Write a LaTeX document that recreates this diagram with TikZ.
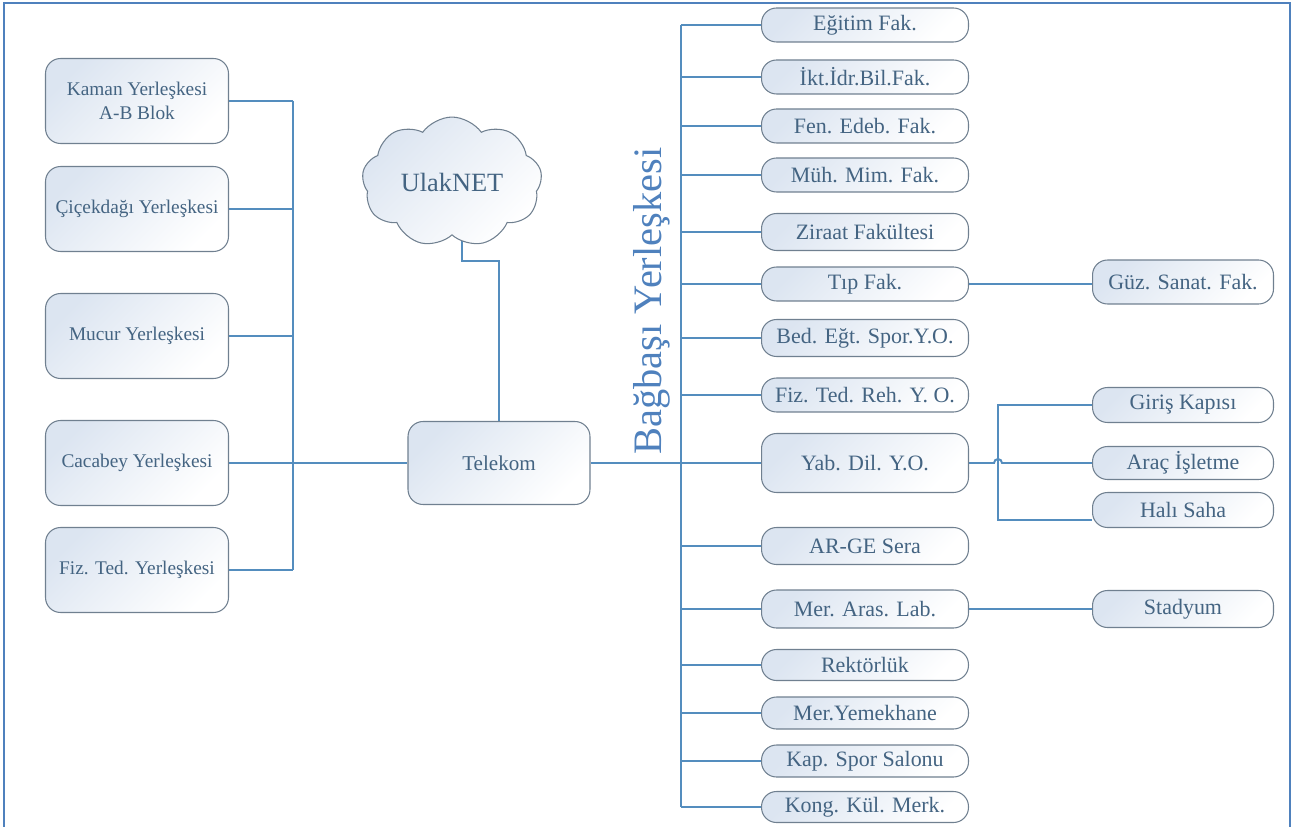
\documentclass[tikz,border=0pt]{standalone}
\usepackage{fontspec}
\setmainfont{Liberation Serif}
\usetikzlibrary{shapes.symbols,backgrounds}
\definecolor{linkblue}{RGB}{84,141,190}
\definecolor{edgegray}{RGB}{112,128,144}
\definecolor{boxtext}{RGB}{68,100,130}
\definecolor{boxfill}{RGB}{220,229,241}
\definecolor{frameblue}{RGB}{79,129,189}
\tikzset{
  box/.style={draw=edgegray,line width=0.6pt,rounded corners=0.3cm,top color=boxfill,bottom color=white,shading angle=45,text=boxtext,align=center,inner sep=2pt},
  campusbox/.style={box,minimum width=3.66cm,minimum height=1.7cm,font=\fontsize{11}{13.5}\selectfont},
  facbox/.style={box,minimum width=4.14cm,minimum height=0.68cm,font=\fontsize{12.5}{14}\selectfont},
  subbox/.style={box,minimum width=3.62cm,minimum height=0.7cm,font=\fontsize{12.5}{14}\selectfont},
  link/.style={draw=linkblue,line width=1.1pt},
  framebox/.style={draw=frameblue,line width=1.2pt}
}
\begin{document}
\begin{tikzpicture}[x=0.02cm,y=-0.02cm]
      \useasboundingbox (0,0) rectangle (1294,827) ;
      \draw[framebox] (4,827) -- (4,3) -- (1290,3) -- (1290,827) ;
      \coordinate (lbus) at (293,0) ;
      \coordinate (rbus) at (681,0) ;
      \coordinate (ybus) at (998,0) ;
      \node[campusbox] (kaman) at (137,101) {Kaman Yerleşkesi\\A-B Blok} ;
      \node[campusbox] (cicekdagi) at (137,209) {Çiçekdağı Yerleşkesi} ;
      \node[campusbox] (mucur) at (137,336) {Mucur Yerleşkesi} ;
      \node[campusbox] (cacabey) at (137,463) {Cacabey Yerleşkesi} ;
      \node[campusbox] (fizted) at (137,570) {Fiz. Ted. Yerleşkesi} ;
      \node[box,minimum width=3.64cm,minimum height=1.66cm,font=\fontsize{12}{14}\selectfont] (telekom) at (499,463) {Telekom} ;
      \node[cloud,cloud puffs=9,cloud puff arc=110,aspect=1.5,minimum width=3.6cm,minimum height=2.3cm,draw=edgegray,line width=0.6pt,top color=boxfill,bottom color=white,shading angle=45,text=boxtext,font=\fontsize{15}{17}\selectfont] (ulaknet) at (452,182) {UlakNET} ;
      \node[rotate=90,anchor=base,text=frameblue,font=\fontsize{23}{27}\selectfont] (bagbasi) at (661,301) {Bağbaşı Yerleşkesi} ;
      \node[facbox] (egitim) at (865,25) {Eğitim Fak.} ;
      \node[facbox] (ikt) at (865,77) {İkt.İdr.Bil.Fak.} ;
      \node[facbox] (fen) at (865,126) {Fen. Edeb. Fak.} ;
      \node[facbox] (muh) at (865,175) {Müh. Mim. Fak.} ;
      \node[facbox,minimum height=0.74cm] (ziraat) at (865,232) {Ziraat Fakültesi} ;
      \node[facbox] (tip) at (865,284) {Tıp Fak.} ;
      \node[facbox,minimum height=0.74cm] (bed) at (865,338) {Bed. Eğt. Spor.Y.O.} ;
      \node[facbox] (fizreh) at (865,395) {Fiz. Ted. Reh. Y. O.} ;
      \node[facbox,minimum height=1.18cm] (yab) at (865,463) {Yab. Dil. Y.O.} ;
      \node[facbox,minimum height=0.74cm] (arge) at (865,546) {AR-GE Sera} ;
      \node[facbox,minimum height=0.76cm] (meraras) at (865,609) {Mer. Aras. Lab.} ;
      \node[facbox,minimum height=0.62cm] (rektorluk) at (865,665) {Rektörlük} ;
      \node[facbox,minimum height=0.64cm] (yemekhane) at (865,713) {Mer.Yemekhane} ;
      \node[facbox,minimum height=0.64cm] (kapspor) at (865,761) {Kap. Spor Salonu} ;
      \node[facbox,minimum height=0.62cm] (kong) at (865,807) {Kong. Kül. Merk.} ;
      \node[subbox,minimum height=0.88cm] (guzel) at (1183,282) {Güz. Sanat. Fak.} ;
      \node[subbox] (giris) at (1183,405) {Giriş Kapısı} ;
      \node[subbox,minimum height=0.66cm] (arac) at (1183,463) {Araç İşletme} ;
      \node[subbox] (hali) at (1183,510) {Halı Saha} ;
      \node[subbox,minimum height=0.74cm] (stadyum) at (1183,609) {Stadyum} ;
      \coordinate (halientry) at ([yshift=-0.2cm]hali.west) ;
      \begin{scope}[on background layer]
        \foreach \n in {kaman,cicekdagi,mucur,cacabey,fizted}
          \draw[link] (\n.east) -- (lbus |- \n.east) ;
        \draw[link] (lbus |- kaman.east) -- (lbus |- fizted.east) ;
        \draw[link] (cacabey.east) -- (telekom.west) ;
        \draw[link] ([xshift=0.2cm]ulaknet.south) -- ++(0,25) -| (telekom.north) ;
        \draw[link] (telekom.east) -- (yab.west) ;
        \draw[link] (rbus |- egitim.west) -- (rbus |- kong.west) ;
        \foreach \n in {egitim,ikt,fen,muh,ziraat,tip,bed,fizreh,arge,meraras,rektorluk,yemekhane,kapspor,kong}
          \draw[link] (rbus |- \n.west) -- (\n.west) ;
        \draw[link] (tip.east) -- (tip.east -| guzel.west) ;
        \draw[link] (giris.west) -- (ybus |- giris.west) -- (ybus |- halientry) -- (halientry) ;
        \draw[link] (yab.east) -- ([xshift=-0.08cm]ybus |- yab.east) arc (180:0:0.08cm) -- (arac.west) ;
        \draw[link] (meraras.east) -- (stadyum.west) ;
      \end{scope}
    \end{tikzpicture}
\end{document}
